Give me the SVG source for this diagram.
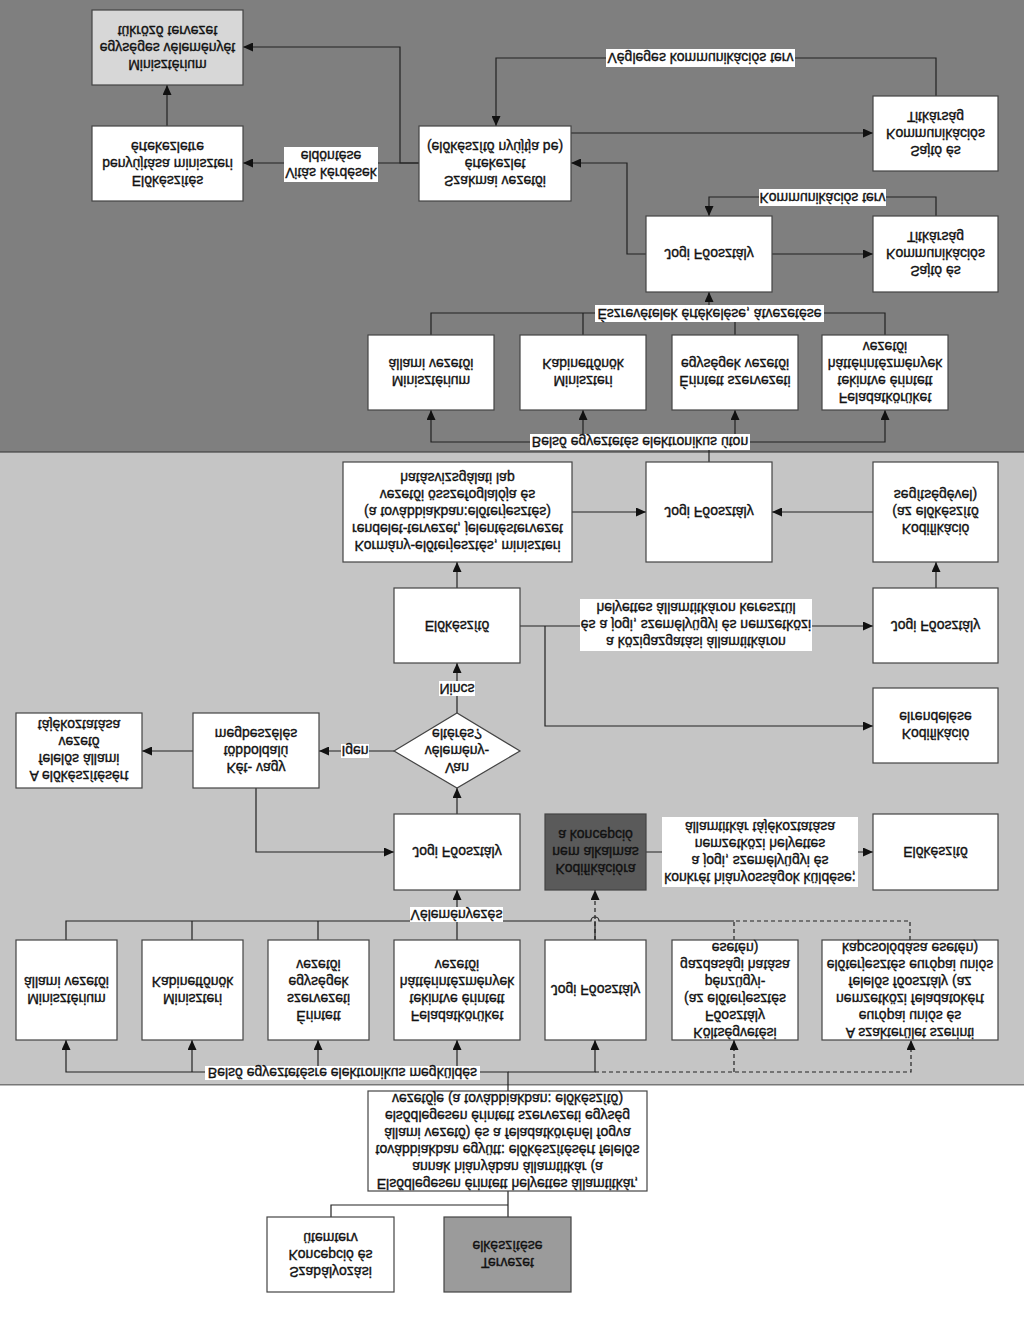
<svg xmlns="http://www.w3.org/2000/svg" width="1024" height="1319" viewBox="0 0 1024 1319">
<style>
.b{fill:#fff;stroke:#444;stroke-width:1.2}
.lg{fill:#d7d7d7;stroke:#444;stroke-width:1.2}
.dk{fill:#5a5a5a;stroke:#444;stroke-width:1.2}
.md{fill:#9b9b9b;stroke:#444;stroke-width:1.2}
.lb{fill:#fff;stroke:none}
.t{font-family:"Liberation Sans",Arial,sans-serif;font-size:14px;fill:#111;stroke:#111;stroke-width:0.35px;text-anchor:middle;dominant-baseline:central}
.c{fill:none;stroke:#222;stroke-width:1.2}
.d{fill:none;stroke:#222;stroke-width:1.2;stroke-dasharray:4 3}
</style>
<defs>
<marker id="a" markerUnits="userSpaceOnUse" markerWidth="11" markerHeight="9" refX="10" refY="4.5" orient="auto">
<path d="M0,0 L10,4.5 L0,9 z" fill="#111"/>
</marker>
</defs>
<rect x="0" y="0" width="1024" height="452" fill="#7f7f7f"/>
<rect x="-2" y="452" width="1028" height="633" fill="#c5c5c5" stroke="#444" stroke-width="1.2"/>
<rect x="0" y="1085.6" width="1024" height="234" fill="#fff"/>

<g id="connectors">
<path class="c" d="M419 163 H400 V47 H243" marker-end="url(#a)"/>
<path class="c" d="M419 163 H243" marker-end="url(#a)"/>
<path class="c" d="M167 126 V85" marker-end="url(#a)"/>
<path class="c" d="M936 96 V58 H496 V126" marker-end="url(#a)"/>
<path class="c" d="M571 133 H873" marker-end="url(#a)"/>
<path class="c" d="M646 254 H627 V163 H571" marker-end="url(#a)"/>
<path class="c" d="M936 216 V197 H709 V216" marker-end="url(#a)"/>
<path class="c" d="M772 254 H873" marker-end="url(#a)"/>
<path class="c" d="M431 335 V313 H885 V335 M583 335 V313 M735 335 V313"/>
<path class="c" d="M709 313 V292" marker-end="url(#a)"/>
<path class="c" d="M709 462 V442 H431 V410" marker-end="url(#a)"/>
<path class="c" d="M709 442 H583 V410" marker-end="url(#a)"/>
<path class="c" d="M709 442 H735 V410" marker-end="url(#a)"/>
<path class="c" d="M735 442 H885 V410" marker-end="url(#a)"/>
<path class="c" d="M572 512 H646" marker-end="url(#a)"/>
<path class="c" d="M873 512 H772" marker-end="url(#a)"/>
<path class="c" d="M457 588 V562" marker-end="url(#a)"/>
<path class="c" d="M936 588 V562" marker-end="url(#a)"/>
<path class="c" d="M520 626 H873" marker-end="url(#a)"/>
<path class="c" d="M545 626 V726 H873" marker-end="url(#a)"/>
<path class="c" d="M457 713 V663" marker-end="url(#a)"/>
<path class="c" d="M394 751 H319" marker-end="url(#a)"/>
<path class="c" d="M193 751 H142" marker-end="url(#a)"/>
<path class="c" d="M256 788 V852 H394" marker-end="url(#a)"/>
<path class="c" d="M457 814 V788" marker-end="url(#a)"/>
<path class="c" d="M646 852 H873" marker-end="url(#a)"/>
<path class="d" d="M595 940 V890" marker-end="url(#a)"/>
<path class="c" d="M66 940 V921 H591 A4 4 0 0 1 599 921 H734 M192 940 V921 M318 940 V921 M457 940 V921 M595 940 V921"/>
<path class="c" d="M457 921 V890" marker-end="url(#a)"/>
<path class="d" d="M734 940 V921 H910 V940"/>
<path class="c" d="M508 1091 V1072 H66 V1040" marker-end="url(#a)"/>
<path class="c" d="M192 1072 V1040" marker-end="url(#a)"/>
<path class="c" d="M318 1072 V1040" marker-end="url(#a)"/>
<path class="c" d="M457 1072 V1040" marker-end="url(#a)"/>
<path class="c" d="M508 1072 H595 V1040" marker-end="url(#a)"/>
<path class="d" d="M595 1072 H911 V1040" marker-end="url(#a)"/>
<path class="d" d="M734 1072 V1040" marker-end="url(#a)"/>
<path class="c" d="M508 1191 V1217 M508 1205 H331 V1217"/>
</g>

<g id="labels">
<rect class="lb" x="606" y="49" width="189" height="18"/>
<text class="t" transform="translate(0 116) scale(1 -1)"><tspan x="700.5" y="58">Végleges kommunikációs terv</tspan></text>
<rect class="lb" x="284" y="147" width="94" height="35"/>
<text class="t" transform="translate(0 329) scale(1 -1)"><tspan x="331" y="156">Vitás kérdések</tspan><tspan x="331" y="173">eldöntése</tspan></text>
<rect class="lb" x="759" y="189" width="127" height="17"/>
<text class="t" transform="translate(0 395) scale(1 -1)"><tspan x="822.5" y="197.5">Kommunikációs terv</tspan></text>
<rect class="lb" x="595" y="305" width="229" height="17"/>
<text class="t" transform="translate(0 627) scale(1 -1)"><tspan x="709.5" y="313.5">Észrevételek értékelése, átvezetése</tspan></text>
<rect class="lb" x="530" y="434" width="220" height="16"/>
<text class="t" transform="translate(0 884) scale(1 -1)"><tspan x="640" y="442">Belső egyeztetés elektronikus úton</tspan></text>
<rect class="lb" x="580" y="599" width="232" height="52"/>
<text class="t" transform="translate(0 1250) scale(1 -1)"><tspan x="696" y="608">a közigazgatási államtitkáron</tspan><tspan x="696" y="625">és a jogi, személyügyi és nemzetközi</tspan><tspan x="696" y="642">helyettes államtitkáron keresztül</tspan></text>
<rect class="lb" x="439" y="681" width="36" height="15"/>
<text class="t" transform="translate(0 1377) scale(1 -1)"><tspan x="457" y="688.5">Nincs</tspan></text>
<rect class="lb" x="341" y="744" width="28" height="14"/>
<text class="t" transform="translate(0 1502) scale(1 -1)"><tspan x="355" y="751">Igen</tspan></text>
<rect class="lb" x="662" y="817" width="196" height="70"/>
<text class="t" transform="translate(0 1704) scale(1 -1)"><tspan x="760" y="826.5">konkrét hiányosságok küldése;</tspan><tspan x="760" y="843.5">a jogi, személyügyi és</tspan><tspan x="760" y="860.5">nemzetközi helyettes</tspan><tspan x="760" y="877.5">államtitkár tájékoztatása</tspan></text>
<rect class="lb" x="410" y="907" width="93" height="15"/>
<text class="t" transform="translate(0 1829) scale(1 -1)"><tspan x="456.5" y="914.5">Véleményezés</tspan></text>
<rect class="lb" x="205" y="1066" width="275" height="14"/>
<text class="t" transform="translate(0 2146) scale(1 -1)"><tspan x="342.5" y="1073">Belső egyeztetésre elektronikus megküldés</tspan></text>
</g>

<g id="n1"><rect class="lg" x="92" y="10" width="151" height="75"/>
<text class="t" transform="translate(0 95) scale(1 -1)"><tspan x="167.5" y="30.5">Minisztérium</tspan><tspan x="167.5" y="47.5">egységes véleményét</tspan><tspan x="167.5" y="64.5">tükröző tervezet</tspan></text></g>
<g id="n2"><rect class="b" x="92" y="126" width="151" height="75"/>
<text class="t" transform="translate(0 327) scale(1 -1)"><tspan x="167.5" y="146.5">Előkészítés</tspan><tspan x="167.5" y="163.5">benyújtása miniszteri</tspan><tspan x="167.5" y="180.5">értekezletre</tspan></text></g>
<g id="n3"><rect class="b" x="419" y="126" width="152" height="75"/>
<text class="t" transform="translate(0 327) scale(1 -1)"><tspan x="495" y="146.5">Szakmai vezetői</tspan><tspan x="495" y="163.5">értekezlet</tspan><tspan x="495" y="180.5">(előkészítő nyújtja be)</tspan></text></g>
<g id="n4"><rect class="b" x="873" y="96" width="125" height="75"/>
<text class="t" transform="translate(0 267) scale(1 -1)"><tspan x="935.5" y="116.5">Sajtó és</tspan><tspan x="935.5" y="133.5">Kommunikációs</tspan><tspan x="935.5" y="150.5">Titkárság</tspan></text></g>
<g id="n5"><rect class="b" x="646" y="216" width="126" height="76"/>
<text class="t" transform="translate(0 508) scale(1 -1)"><tspan x="709" y="254">Jogi Főosztály</tspan></text></g>
<g id="n6"><rect class="b" x="873" y="216" width="125" height="76"/>
<text class="t" transform="translate(0 508) scale(1 -1)"><tspan x="935.5" y="237">Sajtó és</tspan><tspan x="935.5" y="254">Kommunikációs</tspan><tspan x="935.5" y="271">Titkárság</tspan></text></g>
<g id="n7"><rect class="b" x="368" y="335" width="126" height="75"/>
<text class="t" transform="translate(0 745) scale(1 -1)"><tspan x="431" y="364">Minisztérium</tspan><tspan x="431" y="381">állami vezetői</tspan></text></g>
<g id="n8"><rect class="b" x="520" y="335" width="126" height="75"/>
<text class="t" transform="translate(0 745) scale(1 -1)"><tspan x="583" y="364">Miniszteri</tspan><tspan x="583" y="381">Kabinetfőnök</tspan></text></g>
<g id="n9"><rect class="b" x="672" y="335" width="126" height="75"/>
<text class="t" transform="translate(0 745) scale(1 -1)"><tspan x="735" y="364">Érintett szervezeti</tspan><tspan x="735" y="381">egységek vezetői</tspan></text></g>
<g id="n10"><rect class="b" x="822" y="335" width="126" height="75"/>
<text class="t" transform="translate(0 745) scale(1 -1)"><tspan x="885" y="347">Feladatkörüket</tspan><tspan x="885" y="364">tekintve érintett</tspan><tspan x="885" y="381">háttérintézmények</tspan><tspan x="885" y="398">vezetői</tspan></text></g>
<g id="n11"><rect class="b" x="343" y="462" width="229" height="100"/>
<text class="t" transform="translate(0 1024) scale(1 -1)"><tspan x="457.5" y="478">Kormány-előterjesztés, miniszteri</tspan><tspan x="457.5" y="495">rendelet-tervezet, jelentéstervezet</tspan><tspan x="457.5" y="512">(a továbbiakban:előterjesztés)</tspan><tspan x="457.5" y="529">vezetői összefoglalója és</tspan><tspan x="457.5" y="546">hatásvizsgálati lap</tspan></text></g>
<g id="n12"><rect class="b" x="646" y="462" width="126" height="100"/>
<text class="t" transform="translate(0 1024) scale(1 -1)"><tspan x="709" y="512">Jogi Főosztály</tspan></text></g>
<g id="n13"><rect class="b" x="873" y="462" width="125" height="100"/>
<text class="t" transform="translate(0 1024) scale(1 -1)"><tspan x="935.5" y="495">Kodifikáció</tspan><tspan x="935.5" y="512">(az előkészítő</tspan><tspan x="935.5" y="529">segítségével)</tspan></text></g>
<g id="n14"><rect class="b" x="394" y="588" width="126" height="75"/>
<text class="t" transform="translate(0 1251) scale(1 -1)"><tspan x="457" y="625.5">Előkészítő</tspan></text></g>
<g id="n15"><rect class="b" x="873" y="588" width="125" height="75"/>
<text class="t" transform="translate(0 1251) scale(1 -1)"><tspan x="935.5" y="625.5">Jogi Főosztály</tspan></text></g>
<g id="n16"><rect class="b" x="873" y="688" width="125" height="75"/>
<text class="t" transform="translate(0 1451) scale(1 -1)"><tspan x="935.5" y="717">Kodifikáció</tspan><tspan x="935.5" y="734">elrendelése</tspan></text></g>
<g id="n17"><path class="b" d="M394 751 L457 713 L520 751 L457 788 z"/>
<text class="t" transform="translate(0 1502) scale(1 -1)"><tspan x="457" y="734">Van</tspan><tspan x="457" y="751">vélemény-</tspan><tspan x="457" y="768">eltérés?</tspan></text></g>
<g id="n18"><rect class="b" x="193" y="713" width="126" height="75"/>
<text class="t" transform="translate(0 1501) scale(1 -1)"><tspan x="256" y="733.5">Két- vagy</tspan><tspan x="256" y="750.5">többoldalú</tspan><tspan x="256" y="767.5">megbeszélés</tspan></text></g>
<g id="n19"><rect class="b" x="16" y="713" width="126" height="75"/>
<text class="t" transform="translate(0 1501) scale(1 -1)"><tspan x="79" y="725">A előkészítésért</tspan><tspan x="79" y="742">felelős állami</tspan><tspan x="79" y="759">vezető</tspan><tspan x="79" y="776">tájékoztatása</tspan></text></g>
<g id="n20"><rect class="b" x="394" y="814" width="126" height="76"/>
<text class="t" transform="translate(0 1704) scale(1 -1)"><tspan x="457" y="852">Jogi Főosztály</tspan></text></g>
<g id="n21"><rect class="dk" x="545" y="814" width="101" height="76"/>
<text class="t" transform="translate(0 1704) scale(1 -1)"><tspan x="595.5" y="835">Kodifikációra</tspan><tspan x="595.5" y="852">nem alkalmas</tspan><tspan x="595.5" y="869">a koncepció</tspan></text></g>
<g id="n22"><rect class="b" x="873" y="814" width="125" height="76"/>
<text class="t" transform="translate(0 1704) scale(1 -1)"><tspan x="935.5" y="852">Előkészítő</tspan></text></g>
<g id="n23"><rect class="b" x="16" y="940" width="101" height="100"/>
<text class="t" transform="translate(0 1980) scale(1 -1)"><tspan x="66.5" y="981.5">Minisztérium</tspan><tspan x="66.5" y="998.5">állami vezetői</tspan></text></g>
<g id="n24"><rect class="b" x="142" y="940" width="101" height="100"/>
<text class="t" transform="translate(0 1980) scale(1 -1)"><tspan x="192.5" y="981.5">Miniszteri</tspan><tspan x="192.5" y="998.5">Kabinetfőnök</tspan></text></g>
<g id="n25"><rect class="b" x="268" y="940" width="101" height="100"/>
<text class="t" transform="translate(0 1980) scale(1 -1)"><tspan x="318.5" y="964.5">Érintett</tspan><tspan x="318.5" y="981.5">szervezeti</tspan><tspan x="318.5" y="998.5">egységek</tspan><tspan x="318.5" y="1015.5">vezetői</tspan></text></g>
<g id="n26"><rect class="b" x="394" y="940" width="126" height="100"/>
<text class="t" transform="translate(0 1980) scale(1 -1)"><tspan x="457" y="964.5">Feladatkörüket</tspan><tspan x="457" y="981.5">tekintve érintett</tspan><tspan x="457" y="998.5">háttérintézmények</tspan><tspan x="457" y="1015.5">vezetői</tspan></text></g>
<g id="n27"><rect class="b" x="545" y="940" width="101" height="100"/>
<text class="t" transform="translate(0 1980) scale(1 -1)"><tspan x="595.5" y="990">Jogi Főosztály</tspan></text></g>
<g id="n28"><rect class="b" x="672" y="940" width="126" height="100"/>
<text class="t" transform="translate(0 1980) scale(1 -1)"><tspan x="735" y="947.5">Költségvetési</tspan><tspan x="735" y="964.5">Főosztály</tspan><tspan x="735" y="981.5">(az előterjesztés</tspan><tspan x="735" y="998.5">pénzügyi-</tspan><tspan x="735" y="1015.5">gazdasági hatása</tspan><tspan x="735" y="1032.5">esetén)</tspan></text></g>
<g id="n29"><rect class="b" x="822" y="940" width="176" height="100"/>
<text class="t" transform="translate(0 1980) scale(1 -1)"><tspan x="910" y="947.5">A szakterület szerinti</tspan><tspan x="910" y="964.5">európai uniós és</tspan><tspan x="910" y="981.5">nemzetközi feladatokért</tspan><tspan x="910" y="998.5">felelős főosztály (az</tspan><tspan x="910" y="1015.5">előterjesztés európai uniós</tspan><tspan x="910" y="1032.5">kapcsolódása esetén)</tspan></text></g>
<g id="n30"><rect class="b" x="368" y="1091" width="279" height="100"/>
<text class="t" transform="translate(0 2282) scale(1 -1)"><tspan x="507.5" y="1098.5">Elsődlegesen érintett helyettes államtitkár,</tspan><tspan x="507.5" y="1115.5">annak hiányában államtitkár (a</tspan><tspan x="507.5" y="1132.5">továbbiakban együtt: előkészítésért felelős</tspan><tspan x="507.5" y="1149.5">állami vezető) és a feladatkörénél fogva</tspan><tspan x="507.5" y="1166.5">elsődlegesen érintett szervezeti egység</tspan><tspan x="507.5" y="1183.5">vezetője (a továbbiakban: előkészítő)</tspan></text></g>
<g id="n31"><rect class="b" x="267" y="1217" width="127" height="75"/>
<text class="t" transform="translate(0 2509) scale(1 -1)"><tspan x="330.5" y="1237.5">Szabályozási</tspan><tspan x="330.5" y="1254.5">Koncepció és</tspan><tspan x="330.5" y="1271.5">ütemterv</tspan></text></g>
<g id="n32"><rect class="md" x="444" y="1217" width="127" height="75"/>
<text class="t" transform="translate(0 2509) scale(1 -1)"><tspan x="507.5" y="1246">Tervezet</tspan><tspan x="507.5" y="1263">elkészítése</tspan></text></g>
</svg>
